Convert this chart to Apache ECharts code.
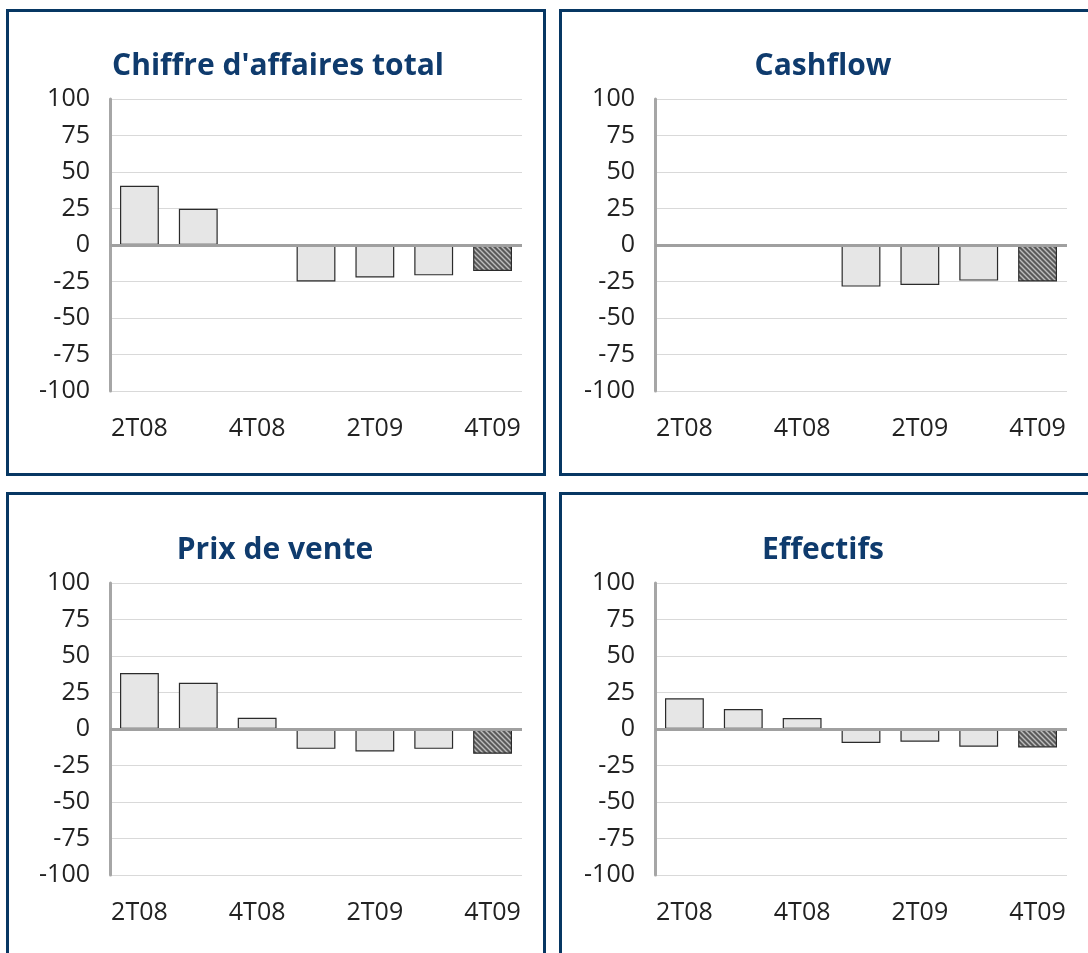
<!DOCTYPE html>
<html lang="fr">
<head>
<meta charset="UTF-8">
<title>Indicateurs trimestriels</title>
<script src="https://cdn.jsdelivr.net/npm/echarts@6/dist/echarts.min.js"></script>
<style>
    * { margin: 0; padding: 0; }
    body { width: 1088px; height: 953px; overflow: hidden; background: #fff; position: relative; }
    .panel { position: absolute; width: 540px; height: 467px; border: 3px solid #073763; box-sizing: border-box; }
    #main { position: absolute; left: 0; top: 0; width: 1088px; height: 953px; }
</style>
</head>
<body>
<div class="panel" style="left:6px;top:9px"></div>
<div class="panel" style="left:559px;top:9px"></div>
<div class="panel" style="left:6px;top:492px"></div>
<div class="panel" style="left:559px;top:492px"></div>
<div id="main"></div>
<script>
    // trimestres
    const quarters = ['2T08', '3T08', '4T08', '1T09', '2T09', '3T09', '4T09'];
    const titles = ["Chiffre d'affaires total", 'Cashflow', 'Prix de vente', 'Effectifs'];
    const chiffreAffaires = [40.5, 24.8, 0.5, -25, -22.2, -20.8, -17.8];
    const cashflow = ['-', '-', '-', -28.5, -27.4, -24.4, -25];
    const prixVente = [38.3, 31.7, 7.7, -13.6, -15.4, -13.6, -17];
    const effectifs = [21, 13.7, 7.5, -9.6, -8.7, -12.1, -12.6];

    const allSeries = [chiffreAffaires, cashflow, prixVente, effectifs];

    // motif hachuré pour le dernier trimestre (prévision)
    const pat = document.createElement('canvas');
    pat.width = 5; pat.height = 5;
    const ctx = pat.getContext('2d');
    ctx.fillStyle = '#5a5a5a';
    ctx.fillRect(0, 0, 5, 5);
    ctx.strokeStyle = '#bdbdbd';
    ctx.lineWidth = 1.4;
    ctx.beginPath();
    ctx.moveTo(0, 0); ctx.lineTo(5, 5);
    ctx.moveTo(-2.5, 2.5); ctx.lineTo(2.5, 7.5);
    ctx.moveTo(2.5, -2.5); ctx.lineTo(7.5, 2.5);
    ctx.stroke();

    const lefts = [110, 655, 110, 655];
    const tops = [99, 99, 583, 583];
    const titleX = [273, 818, 270, 818];
    const titleY = [46, 46, 530, 530];

    const grid = [], xAxis = [], yAxis = [], series = [], title = [];
    for (let i = 0; i < 4; i++) {
        grid.push({ left: lefts[i], top: tops[i], width: 412, height: 292 });
        title.push({
            text: titles[i], left: titleX[i], top: titleY[i], textAlign: 'center',
            textStyle: { color: '#0f3b6d', fontSize: 30, fontWeight: 'bold', fontFamily: 'Open Sans' }
        });
        xAxis.push({
            type: 'category', gridIndex: i, data: quarters,
            axisLine: { show: false, onZero: false },
            axisTick: { show: false },
            axisLabel: { interval: 1, margin: 25, fontSize: 25, color: '#222', fontFamily: 'Open Sans' }
        });
        yAxis.push({
            type: 'value', gridIndex: i, min: -100, max: 100, interval: 25,
            axisLine: { show: true, lineStyle: { color: '#a6a6a6', width: 3 } },
            axisTick: { show: false },
            axisLabel: { margin: 20, fontSize: 25, color: '#222', fontFamily: 'Open Sans' },
            splitLine: { lineStyle: { color: '#d9d9d9', width: 1 } }
        });
        const vals = allSeries[i].map((v, j) => j === quarters.length - 1
            ? { value: v, itemStyle: { color: { image: pat, repeat: 'repeat' } } }
            : v);
        series.push({
            type: 'bar', xAxisIndex: i, yAxisIndex: i, data: vals,
            barCategoryGap: '34%',
            itemStyle: { color: '#e6e6e6', borderColor: '#2b2b2b', borderWidth: 1.2 },
            markLine: {
                silent: true, symbol: 'none', label: { show: false },
                lineStyle: { color: '#a0a0a0', width: 3, type: 'solid' },
                data: [{ yAxis: 0 }]
            }
        });
    }

    const myChart = echarts.init(document.getElementById('main'));
    myChart.setOption({
        animation: false,
        title: title,
        grid: grid,
        xAxis: xAxis,
        yAxis: yAxis,
        series: series
    });
</script>
</body>
</html>
